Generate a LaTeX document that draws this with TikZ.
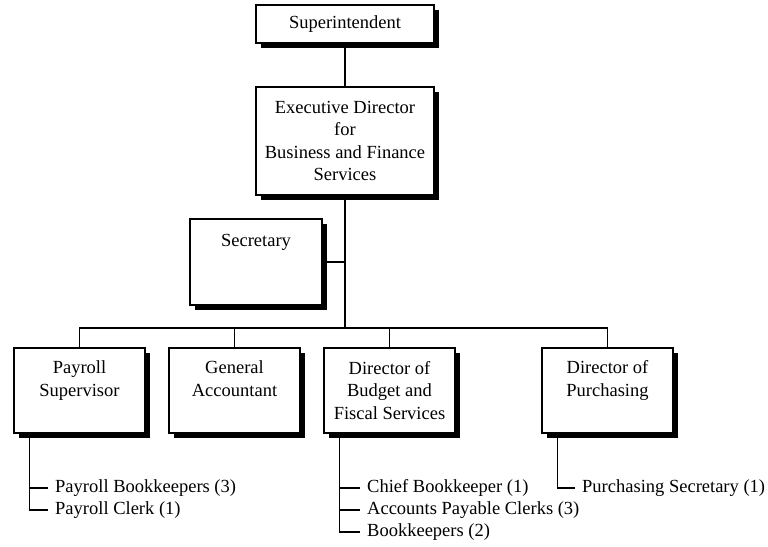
\documentclass[tikz,border=0pt]{standalone}
\usepackage{fontspec}
\setmainfont{Liberation Serif}
\usetikzlibrary{shadows}
\begin{document}
\begin{tikzpicture}[x=1pt,y=-1pt,
  every node/.style={font=\fontsize{18.5}{22.5}\selectfont},
  orgbox/.style={draw, line width=1.2pt, fill=white, inner sep=0pt,
    drop shadow={shadow xshift=4.5pt, shadow yshift=-4.5pt, fill=black, opacity=1}},
  boxlabel/.style={anchor=base, align=center, inner sep=0pt},
  item/.style={anchor=west, inner xsep=7pt, inner ysep=0pt},
  link/.style={line width=1.2pt}]
\useasboundingbox (0,0) rectangle (768,546);

% top of the chart
\node[orgbox, minimum width=178pt, minimum height=38pt] (sup) at (345,24) {Superintendent};
\node[orgbox, minimum width=178pt, minimum height=108pt, align=center] (exec) at (345,141)
  {Executive Director\\for\\Business and Finance\\Services};
\node[orgbox, minimum width=132pt, minimum height=86pt] (sec) at (256,262) {};
\node[boxlabel] (sect) at (256,246) {Secretary};

% department heads (labels placed by the baseline of their last line)
\node[orgbox, minimum width=131pt, minimum height=85pt] (pay) at (79.5,390.5) {};
\node[orgbox, minimum width=131pt, minimum height=85pt] (gen) at (234.5,390.5) {};
\node[orgbox, minimum width=131pt, minimum height=85pt] (bud) at (389.5,390.5) {};
\node[orgbox, minimum width=131pt, minimum height=85pt] (pur) at (607.5,390.5) {};
\node[boxlabel] (payt) at (79.5,396) {Payroll\\Supervisor};
\node[boxlabel] (gent) at (234.5,396) {General\\Accountant};
\node[boxlabel] (budt) at (389.5,419) {Director of\\Budget and\\Fiscal Services};
\node[boxlabel] (purt) at (607.5,396) {Director of\\Purchasing};

% connectors between boxes
\draw[link] (sup.south) -- (exec.north);
\coordinate (bus) at (345,328);
\draw[link] (exec.south) -- (bus);
\draw[link] (sec.east) -- (sec.east -| exec.south);
\draw[link] (pay.north) |- (bus) -| (pur.north);
\draw[link] (gen.north) -- (gen.north |- bus);
\draw[link] (bud.north) -- (bud.north |- bus);

% staff lists
\node[item] (pb) at (48,488) {Payroll Bookkeepers (3)};
\node[item] (pc) at (48,510) {Payroll Clerk (1)};
\node[item] (cb) at (360,488) {Chief Bookkeeper (1)};
\node[item] (ap) at (360,510) {Accounts Payable Clerks (3)};
\node[item] (bk) at (360,532) {Bookkeepers (2)};
\node[item] (ps) at (575,488) {Purchasing Secretary (1)};

\coordinate (payv) at ([xshift=16pt]pay.south west);
\coordinate (budv) at ([xshift=16pt]bud.south west);
\coordinate (purv) at ([xshift=16pt]pur.south west);
\draw[link] (payv) |- (pc.west);
\draw[link] (payv |- pb.west) -- (pb.west);
\draw[link] (budv) |- (bk.west);
\draw[link] (budv |- cb.west) -- (cb.west);
\draw[link] (budv |- ap.west) -- (ap.west);
\draw[link] (purv) |- (ps.west);
\end{tikzpicture}
\end{document}
